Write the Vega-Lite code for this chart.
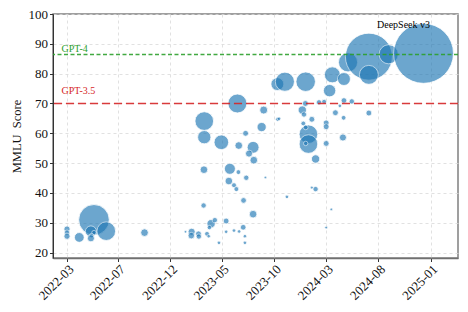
{
  "$schema": "https://vega.github.io/schema/vega-lite/v6.json",
  "width": 405,
  "height": 244,
  "autosize": {"type": "none"},
  "padding": {"left": 53, "top": 14, "right": 10, "bottom": 54},
  "background": "white",
  "config": {
    "font": "Liberation Serif",
    "view": {"stroke": "#808080", "strokeWidth": 1.5},
    "axis": {
      "labelFont": "Liberation Serif",
      "titleFont": "Liberation Serif",
      "labelFontSize": 13,
      "titleFontSize": 12.5,
      "labelColor": "#111",
      "titleColor": "#111",
      "titleFontWeight": "normal",
      "tickColor": "#333",
      "tickSize": 3.5,
      "labelOverlap": false,
      "gridColor": "#d9d9d9",
      "gridDash": [3, 3],
      "gridWidth": 0.8
    }
  },
  "datasets": {
    "models": [
      {"date": "2022-02-01", "mmlu": 27.9, "params": 7.2},
      {"date": "2022-02-01", "mmlu": 26.7, "params": 5.3},
      {"date": "2022-02-01", "mmlu": 25.5, "params": 7.2},
      {"date": "2022-03-09", "mmlu": 25.1, "params": 17.8},
      {"date": "2022-04-21", "mmlu": 31.0, "params": 175},
      {"date": "2022-05-27", "mmlu": 27.2, "params": 65},
      {"date": "2022-04-12", "mmlu": 27.1, "params": 23},
      {"date": "2022-04-21", "mmlu": 26.7, "params": 3.7},
      {"date": "2022-04-14", "mmlu": 25.7, "params": 3.7},
      {"date": "2022-04-12", "mmlu": 24.8, "params": 9.4},
      {"date": "2022-09-16", "mmlu": 26.7, "params": 10.9},
      {"date": "2023-01-14", "mmlu": 27.0, "params": 1.3},
      {"date": "2023-02-01", "mmlu": 27.0, "params": 9.4},
      {"date": "2023-01-31", "mmlu": 25.7, "params": 8},
      {"date": "2023-02-21", "mmlu": 26.3, "params": 6.4},
      {"date": "2023-02-22", "mmlu": 25.4, "params": 5.3},
      {"date": "2023-03-08", "mmlu": 35.8, "params": 5.3},
      {"date": "2023-03-09", "mmlu": 47.8, "params": 10.9},
      {"date": "2023-03-18", "mmlu": 26.3, "params": 4.3},
      {"date": "2023-03-23", "mmlu": 25.5, "params": 2.35},
      {"date": "2023-03-30", "mmlu": 29.7, "params": 13},
      {"date": "2023-03-25", "mmlu": 28.4, "params": 3.7},
      {"date": "2023-04-10", "mmlu": 30.9, "params": 5.3},
      {"date": "2023-04-22", "mmlu": 23.3, "params": 2.35},
      {"date": "2023-05-13", "mmlu": 30.6, "params": 6.4},
      {"date": "2023-05-13", "mmlu": 27.0, "params": 2.35},
      {"date": "2023-06-05", "mmlu": 27.4, "params": 2.35},
      {"date": "2023-06-20", "mmlu": 27.1, "params": 2.35},
      {"date": "2023-07-02", "mmlu": 28.5, "params": 6},
      {"date": "2023-07-07", "mmlu": 25.5, "params": 2.35},
      {"date": "2023-07-07", "mmlu": 23.3, "params": 2.35},
      {"date": "2023-07-03", "mmlu": 37.5, "params": 6},
      {"date": "2023-07-31", "mmlu": 32.9, "params": 10.9},
      {"date": "2023-05-24", "mmlu": 48.1, "params": 22.6},
      {"date": "2023-06-18", "mmlu": 47.0, "params": 4.3},
      {"date": "2023-05-21", "mmlu": 44.0, "params": 10.9},
      {"date": "2023-06-05", "mmlu": 42.6, "params": 4.6},
      {"date": "2023-06-12", "mmlu": 41.3, "params": 4.6},
      {"date": "2023-07-11", "mmlu": 45.1, "params": 5.3},
      {"date": "2023-09-05", "mmlu": 45.2, "params": 1.3},
      {"date": "2023-06-15", "mmlu": 70.0, "params": 67},
      {"date": "2023-03-10", "mmlu": 64.1, "params": 65},
      {"date": "2023-03-10", "mmlu": 58.7, "params": 33},
      {"date": "2023-04-29", "mmlu": 57.0, "params": 40},
      {"date": "2023-06-19", "mmlu": 55.9, "params": 10.9},
      {"date": "2023-07-31", "mmlu": 55.3, "params": 26.4},
      {"date": "2023-07-19", "mmlu": 53.2, "params": 9.4},
      {"date": "2023-08-02", "mmlu": 51.0, "params": 10.9},
      {"date": "2023-08-31", "mmlu": 67.8, "params": 11.9},
      {"date": "2023-08-25", "mmlu": 62.1, "params": 15.9},
      {"date": "2023-07-09", "mmlu": 60.0, "params": 6.4},
      {"date": "2023-10-11", "mmlu": 64.7, "params": 3.1},
      {"date": "2023-10-15", "mmlu": 64.9, "params": 2.35},
      {"date": "2023-10-10", "mmlu": 76.5, "params": 31},
      {"date": "2023-11-01", "mmlu": 77.3, "params": 68.5},
      {"date": "2024-01-01", "mmlu": 77.3, "params": 71},
      {"date": "2023-11-07", "mmlu": 38.7, "params": 2.35},
      {"date": "2023-12-22", "mmlu": 67.8, "params": 13},
      {"date": "2023-12-27", "mmlu": 66.3, "params": 5.3},
      {"date": "2023-12-25", "mmlu": 63.3, "params": 4.3},
      {"date": "2023-12-31", "mmlu": 70.0, "params": 6.4},
      {"date": "2024-01-19", "mmlu": 64.7, "params": 6.4},
      {"date": "2024-01-09", "mmlu": 59.7, "params": 64.7},
      {"date": "2024-01-01", "mmlu": 62.0, "params": 4.3},
      {"date": "2024-01-09", "mmlu": 56.4, "params": 64.7},
      {"date": "2024-01-01", "mmlu": 56.6, "params": 3.7},
      {"date": "2024-01-30", "mmlu": 51.4, "params": 13},
      {"date": "2024-01-19", "mmlu": 41.8, "params": 1.7},
      {"date": "2024-01-30", "mmlu": 41.3, "params": 5.3},
      {"date": "2024-03-16", "mmlu": 34.5, "params": 1.3},
      {"date": "2024-03-01", "mmlu": 28.4, "params": 1.5},
      {"date": "2024-02-09", "mmlu": 70.4, "params": 5.3},
      {"date": "2024-02-24", "mmlu": 70.6, "params": 4.3},
      {"date": "2024-03-01", "mmlu": 63.5, "params": 6.4},
      {"date": "2024-03-01", "mmlu": 62.2, "params": 6.4},
      {"date": "2024-03-01", "mmlu": 56.6, "params": 6.4},
      {"date": "2024-03-11", "mmlu": 74.3, "params": 28.8},
      {"date": "2024-03-28", "mmlu": 66.9, "params": 6.4},
      {"date": "2024-04-10", "mmlu": 69.2, "params": 2.35},
      {"date": "2024-04-22", "mmlu": 71.0, "params": 6},
      {"date": "2024-05-15", "mmlu": 70.7, "params": 5.3},
      {"date": "2024-04-21", "mmlu": 65.2, "params": 4.3},
      {"date": "2024-04-19", "mmlu": 58.6, "params": 9.4},
      {"date": "2024-07-04", "mmlu": 66.8, "params": 6.4},
      {"date": "2024-03-19", "mmlu": 79.6, "params": 47.6},
      {"date": "2024-04-22", "mmlu": 78.2, "params": 31.3},
      {"date": "2024-05-04", "mmlu": 83.8, "params": 68.5},
      {"date": "2024-07-04", "mmlu": 85.7, "params": 412},
      {"date": "2024-07-04", "mmlu": 79.6, "params": 67.2},
      {"date": "2024-08-31", "mmlu": 86.5, "params": 68.5},
      {"date": "2024-12-11", "mmlu": 86.8, "params": 671, "label": "DeepSeek v3"}
    ],
    "refs": [
      {"name": "GPT-4", "mmlu": 86.4},
      {"name": "GPT-3.5", "mmlu": 70.0}
    ]
  },
  "encoding": {
    "y": {
      "field": "mmlu",
      "type": "quantitative",
      "scale": {"domain": [18.2, 100], "nice": false, "zero": false},
      "axis": {
        "title": "MMLU\u00a0 Score",
        "grid": true,
        "values": [20, 30, 40, 50, 60, 70, 80, 90, 100],
        "tickCount": 9,
        "labelOverlap": false,
        "labelPadding": 2,
        "titlePadding": 5,
        "domainColor": "#333",
        "domainWidth": 1
      }
    }
  },
  "layer": [
    {
      "data": {"name": "models"},
      "mark": {"type": "circle", "color": "#1f77b4", "opacity": 0.65, "stroke": "white", "strokeWidth": 0.8, "clip": true},
      "encoding": {
        "x": {
          "field": "date",
          "type": "temporal",
          "scale": {"type": "utc", "domain": [{"year": 2021, "month": 12, "date": 22, "utc": true}, {"year": 2025, "month": 3, "date": 22, "utc": true}]},
          "axis": {
            "title": null,
            "grid": true,
            "values": [
              {"year": 2022, "month": 2, "date": 1, "utc": true},
              {"year": 2022, "month": 7, "date": 1, "utc": true},
              {"year": 2022, "month": 12, "date": 1, "utc": true},
              {"year": 2023, "month": 5, "date": 1, "utc": true},
              {"year": 2023, "month": 10, "date": 1, "utc": true},
              {"year": 2024, "month": 3, "date": 1, "utc": true},
              {"year": 2024, "month": 8, "date": 1, "utc": true},
              {"year": 2025, "month": 1, "date": 1, "utc": true}
            ],
            "labelExpr": "utcFormat(datum.value, '%Y-%m') == '2022-02' ? '2022-03' : utcFormat(datum.value, '%Y-%m')",
            "labelAngle": -45,
            "labelAlign": "right",
            "labelBaseline": "top",
            "labelPadding": 1,
            "domainColor": "#707070",
            "domainWidth": 1.5
          }
        },
        "size": {"field": "params", "type": "quantitative", "scale": {"type": "linear", "domain": [0, 671], "range": [0, 3590], "zero": true}, "legend": null}
      }
    },
    {
      "data": {"name": "refs"},
      "mark": {"type": "rule", "strokeWidth": 1.5, "opacity": 0.9},
      "encoding": {
        "color": {"field": "name", "type": "nominal", "scale": {"domain": ["GPT-4", "GPT-3.5"], "range": ["#2ca02c", "#d62728"]}, "legend": null},
        "strokeDash": {"field": "name", "type": "nominal", "scale": {"domain": ["GPT-4", "GPT-3.5"], "range": [[4, 2.5], [8, 4]]}, "legend": null}
      }
    },
    {
      "data": {"name": "refs"},
      "transform": [{"filter": "datum.name == 'GPT-4'"}],
      "mark": {"type": "text", "align": "left", "baseline": "alphabetic", "dy": -3, "fontSize": 10, "font": "Liberation Serif"},
      "encoding": {
        "x": {"datum": {"year": 2022, "month": 1, "date": 16, "utc": true}, "type": "temporal"},
        "text": {"field": "name"},
        "color": {"field": "name", "type": "nominal", "legend": null}
      }
    },
    {
      "data": {"name": "refs"},
      "transform": [{"filter": "datum.name == 'GPT-3.5'"}],
      "mark": {"type": "text", "align": "left", "baseline": "alphabetic", "dy": -9, "fontSize": 10, "font": "Liberation Serif"},
      "encoding": {
        "x": {"datum": {"year": 2022, "month": 1, "date": 16, "utc": true}, "type": "temporal"},
        "text": {"field": "name"},
        "color": {"field": "name", "type": "nominal", "legend": null}
      }
    },
    {
      "data": {"name": "models"},
      "transform": [{"filter": "datum.label"}],
      "mark": {"type": "text", "align": "center", "baseline": "alphabetic", "dx": -20, "dy": -25, "fontSize": 10, "font": "Liberation Serif", "color": "#000"},
      "encoding": {
        "x": {"field": "date", "type": "temporal"},
        "text": {"field": "label"}
      }
    }
  ]
}
